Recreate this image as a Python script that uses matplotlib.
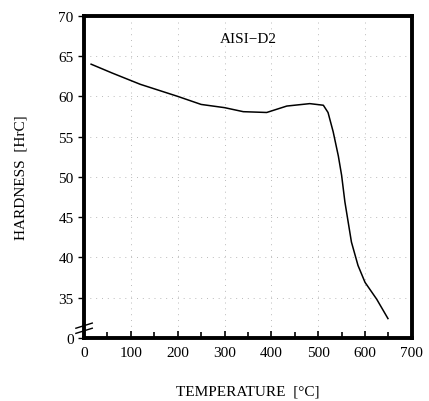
import matplotlib.pyplot as plt
import numpy as np

plt.rcParams['font.family'] = ['Liberation Serif', 'DejaVu Serif']

# tempering curve
temp = [15, 60, 120, 200, 250, 300, 340, 390, 433, 482, 511, 521, 532, 543, 550, 557, 564, 571, 585, 600, 625, 649]
hardness = [64, 62.9, 61.5, 60, 59, 58.6, 58.1, 58, 58.8, 59.1, 58.9, 58.0, 55.6, 52.6, 50.2, 46.9, 44.4, 41.9, 39.0, 36.9, 34.8, 32.4]

yticks = [30, 35, 40, 45, 50, 55, 60, 65, 70]
ylabels = ['0', '35', '40', '45', '50', '55', '60', '65', '70']
xticks = [0, 100, 200, 300, 400, 500, 600, 700]

fig = plt.figure(figsize=(4.29, 4.02), dpi=100)
ax = fig.add_axes([0.196, 0.157, 0.764, 0.801])

ax.plot(temp, hardness, color='black', lw=1.1)

ax.set_xlim(0, 700)
ax.set_ylim(30, 70)
ax.set_xticks(xticks)
ax.set_xticks(np.arange(0, 701, 50), minor=True)
ax.set_yticks(yticks)
ax.set_yticklabels(ylabels)
ax.tick_params(axis='x', direction='in', length=5, width=1.2, labelsize=11, pad=6)
ax.tick_params(axis='x', which='minor', direction='in', length=4, width=1.2)
ax.tick_params(axis='y', direction='out', length=4, width=1, labelsize=11)

# faint scanned-looking grid
ax.grid(True, which='major', color='#bbbbbb', ls=(0, (1, 5)), lw=0.7)

for s in ax.spines.values():
    s.set_linewidth(2.8)

ax.text(0.5, 0.93, 'AISI\u2212D2', transform=ax.transAxes, ha='center', va='center', fontsize=11)

ax.set_xlabel('TEMPERATURE  [\u00b0C]', fontsize=11, labelpad=18)
ax.set_ylabel('HARDNESS  [HrC]', fontsize=11, labelpad=22)

# axis break marks on the left spine
for dy in (0.022, 0.038):
    ax.plot([-0.025, 0.025], [dy - 0.008, dy + 0.008], transform=ax.transAxes,
            color='black', lw=1, clip_on=False)

fig.savefig('out.png', dpi=100)
